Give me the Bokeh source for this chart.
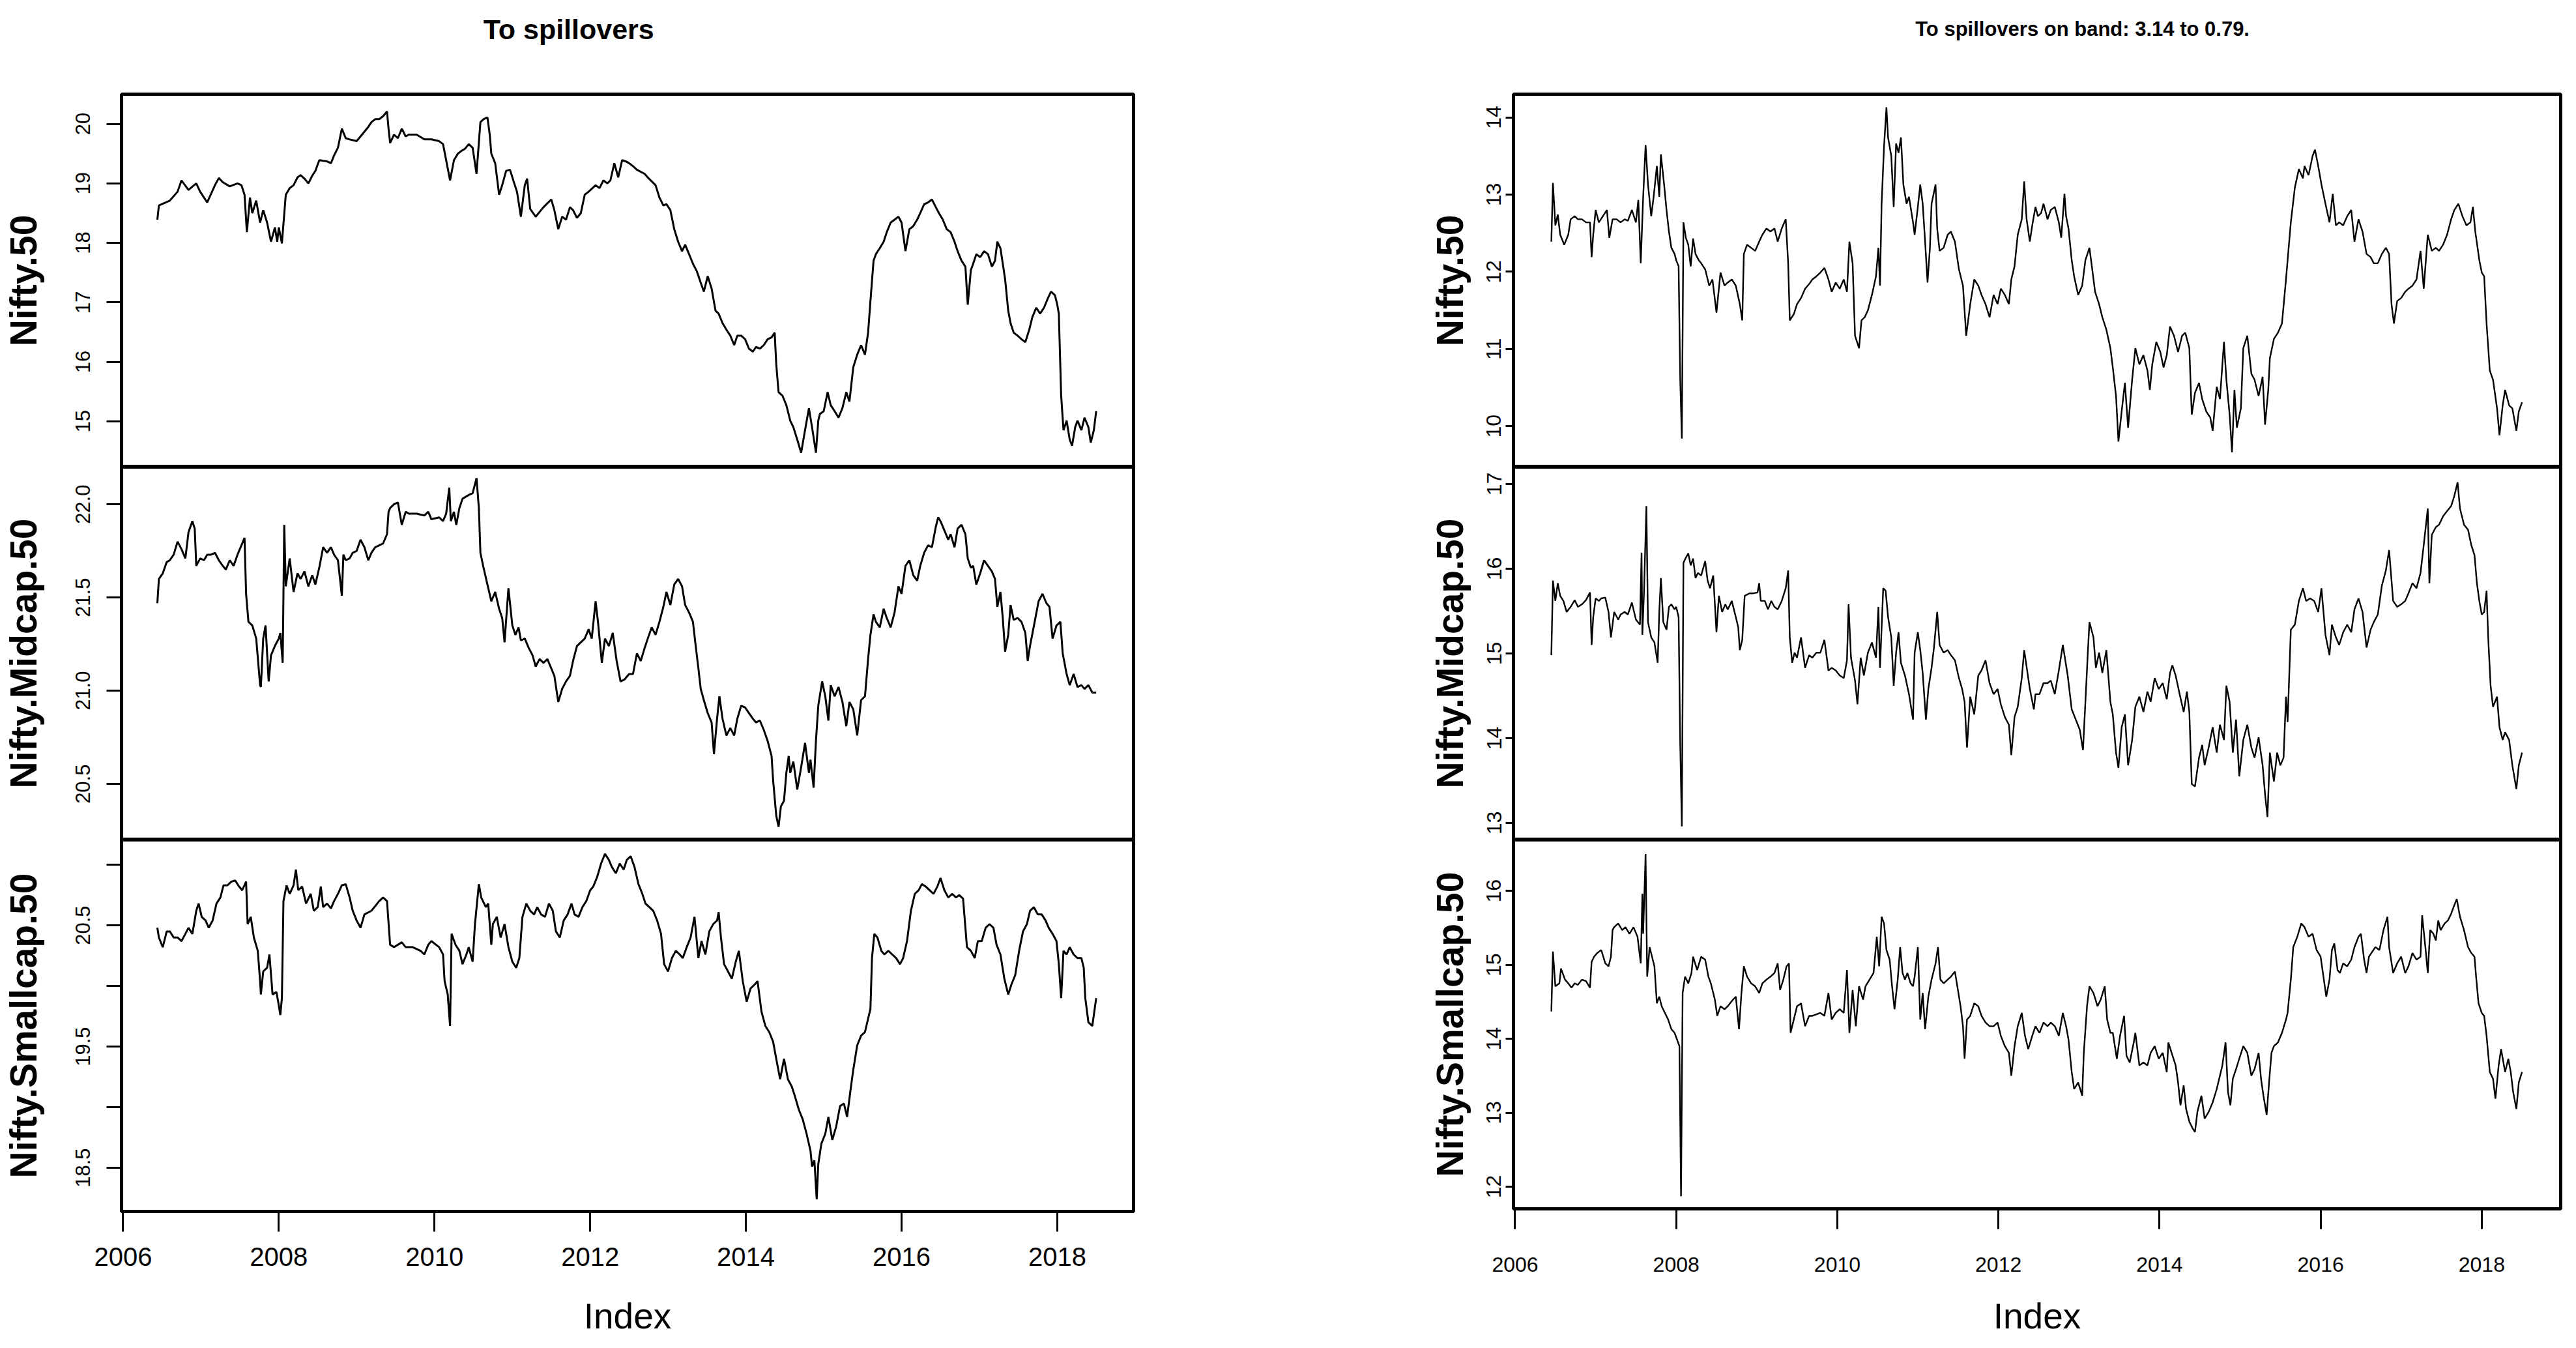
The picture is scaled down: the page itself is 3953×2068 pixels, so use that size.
from bokeh.plotting import figure
from bokeh.layouts import row, column
from bokeh.models import Range1d, FixedTicker, NumeralTickFormatter, Label
from bokeh.embed import file_html
from bokeh.resources import INLINE

# ---------------- data (fractional year, value) ----------------
TITLE_LEFT = "To spillovers"
TITLE_RIGHT = "To spillovers on band: 3.14 to 0.79."
SERIES_NAMES = ["Nifty.50", "Nifty.Midcap.50", "Nifty.Smallcap.50"]
YEAR_TICKS = [2006, 2008, 2010, 2012, 2014, 2016, 2018]

TO_NIFTY50 = [
(2006.44,18.39),(2006.46,18.63),(2006.60,18.71),(2006.70,18.86),(2006.75,19.05),(2006.84,18.89),
(2006.94,19.00),(2006.99,18.86),(2007.08,18.68),(2007.18,18.97),(2007.23,19.09),(2007.28,19.02),
(2007.37,18.95),(2007.47,19.00),(2007.52,18.97),(2007.56,18.81),(2007.59,18.18),(2007.63,18.76),
(2007.66,18.50),(2007.71,18.71),(2007.76,18.34),(2007.80,18.55),(2007.85,18.34),(2007.90,18.02),
(2007.95,18.26),(2007.98,18.02),(2008.00,18.26),(2008.04,17.99),(2008.09,18.81),(2008.14,18.92),
(2008.19,18.97),(2008.24,19.10),(2008.28,19.14),(2008.33,19.08),(2008.38,19.00),(2008.43,19.13),
(2008.47,19.21),(2008.52,19.39),(2008.62,19.37),(2008.67,19.34),(2008.71,19.47),(2008.76,19.60),
(2008.81,19.92),(2008.86,19.76),(2008.91,19.74),(2009.00,19.71),(2009.05,19.79),(2009.10,19.87),
(2009.15,19.95),(2009.19,20.03),(2009.24,20.08),(2009.29,20.08),(2009.34,20.13),(2009.39,20.21),
(2009.41,19.92),(2009.43,19.68),(2009.48,19.82),(2009.53,19.76),(2009.58,19.92),(2009.63,19.79),
(2009.67,19.82),(2009.77,19.82),(2009.87,19.74),(2009.96,19.74),(2010.06,19.71),(2010.11,19.66),
(2010.15,19.39),(2010.20,19.05),(2010.25,19.39),(2010.30,19.50),(2010.35,19.55),(2010.39,19.58),
(2010.44,19.66),(2010.49,19.60),(2010.54,19.16),(2010.59,20.03),(2010.63,20.08),(2010.68,20.11),
(2010.71,19.82),(2010.73,19.50),(2010.78,19.34),(2010.83,18.81),(2010.87,18.97),(2010.92,19.21),
(2010.97,19.23),(2011.02,19.02),(2011.06,18.86),(2011.11,18.44),(2011.16,18.97),(2011.19,19.08),
(2011.23,18.57),(2011.30,18.44),(2011.40,18.60),(2011.50,18.73),(2011.54,18.55),(2011.59,18.23),
(2011.64,18.44),(2011.69,18.39),(2011.74,18.60),(2011.78,18.55),(2011.83,18.42),(2011.88,18.50),
(2011.93,18.81),(2011.98,18.86),(2012.07,18.97),(2012.12,18.92),(2012.17,19.05),(2012.22,19.00),
(2012.26,19.05),(2012.31,19.34),(2012.36,19.10),(2012.41,19.39),(2012.46,19.37),(2012.50,19.34),
(2012.55,19.29),(2012.60,19.23),(2012.70,19.16),(2012.74,19.10),(2012.84,18.97),(2012.89,18.76),
(2012.94,18.63),(2012.98,18.65),(2013.03,18.55),(2013.08,18.23),(2013.13,18.02),(2013.18,17.86),
(2013.22,17.97),(2013.27,17.81),(2013.32,17.65),(2013.37,17.52),(2013.42,17.33),(2013.46,17.18),
(2013.51,17.44),(2013.56,17.23),(2013.61,16.86),(2013.65,16.81),(2013.70,16.65),(2013.75,16.54),
(2013.80,16.44),(2013.85,16.28),(2013.89,16.44),(2013.94,16.44),(2013.99,16.38),(2014.04,16.22),
(2014.09,16.17),(2014.13,16.25),(2014.18,16.22),(2014.23,16.28),(2014.28,16.38),(2014.33,16.41),
(2014.37,16.49),(2014.39,15.96),(2014.42,15.49),(2014.47,15.43),(2014.52,15.27),(2014.57,15.01),
(2014.61,14.90),(2014.66,14.69),(2014.71,14.47),(2014.76,14.85),(2014.81,15.22),(2014.85,14.90),
(2014.90,14.47),(2014.93,15.01),(2014.95,15.12),(2015.00,15.17),(2015.05,15.49),(2015.09,15.27),
(2015.14,15.17),(2015.19,15.06),(2015.24,15.22),(2015.29,15.49),(2015.33,15.33),(2015.38,15.91),
(2015.43,16.12),(2015.48,16.28),(2015.53,16.12),(2015.57,16.49),(2015.60,17.02),(2015.64,17.70),
(2015.67,17.81),(2015.72,17.91),(2015.77,18.02),(2015.81,18.18),(2015.86,18.34),(2015.91,18.39),
(2015.96,18.44),(2016.00,18.34),(2016.05,17.86),(2016.10,18.23),(2016.15,18.28),(2016.20,18.39),
(2016.24,18.50),(2016.29,18.65),(2016.34,18.68),(2016.39,18.73),(2016.44,18.60),(2016.48,18.50),
(2016.53,18.39),(2016.58,18.23),(2016.63,18.18),(2016.68,18.02),(2016.72,17.86),(2016.77,17.70),
(2016.82,17.60),(2016.85,16.96),(2016.89,17.54),(2016.92,17.65),(2016.96,17.81),(2017.01,17.76),
(2017.06,17.86),(2017.11,17.81),(2017.16,17.60),(2017.20,17.70),(2017.23,18.02),(2017.27,17.91),
(2017.30,17.65),(2017.33,17.39),(2017.37,16.86),(2017.40,16.65),(2017.44,16.49),(2017.49,16.44),
(2017.54,16.38),(2017.59,16.33),(2017.64,16.54),(2017.68,16.75),(2017.73,16.91),(2017.78,16.81),
(2017.83,16.91),(2017.88,17.07),(2017.92,17.18),(2017.97,17.12),(2018.00,16.96),(2018.02,16.81),
(2018.05,15.43),(2018.08,14.85),(2018.12,15.01),(2018.16,14.69),(2018.19,14.59),(2018.23,14.90),
(2018.26,15.01),(2018.31,14.85),(2018.35,15.06),(2018.40,14.90),(2018.43,14.64),(2018.47,14.85),
(2018.50,15.17)]

TO_MIDCAP50 = [
(2006.44,21.47),(2006.46,21.60),(2006.51,21.63),(2006.56,21.69),(2006.60,21.70),(2006.65,21.73),
(2006.70,21.80),(2006.75,21.76),(2006.80,21.71),(2006.84,21.85),(2006.89,21.91),(2006.92,21.87),
(2006.94,21.67),(2006.99,21.71),(2007.04,21.70),(2007.08,21.73),(2007.13,21.73),(2007.18,21.74),
(2007.23,21.70),(2007.28,21.67),(2007.32,21.65),(2007.37,21.70),(2007.42,21.67),(2007.47,21.73),
(2007.52,21.78),(2007.56,21.82),(2007.58,21.52),(2007.61,21.37),(2007.66,21.35),(2007.71,21.28),
(2007.76,21.03),(2007.77,21.02),(2007.80,21.28),(2007.83,21.35),(2007.87,21.05),(2007.90,21.19),
(2007.95,21.24),(2008.00,21.28),(2008.02,21.31),(2008.05,21.15),(2008.07,21.89),(2008.09,21.56),
(2008.14,21.71),(2008.19,21.53),(2008.24,21.63),(2008.28,21.60),(2008.33,21.64),(2008.38,21.56),
(2008.43,21.62),(2008.47,21.57),(2008.52,21.66),(2008.57,21.77),(2008.62,21.74),(2008.67,21.77),
(2008.71,21.73),(2008.76,21.70),(2008.81,21.51),(2008.83,21.73),(2008.86,21.70),(2008.91,21.71),
(2008.95,21.74),(2009.00,21.75),(2009.05,21.81),(2009.10,21.77),(2009.15,21.70),(2009.19,21.74),
(2009.24,21.77),(2009.29,21.78),(2009.34,21.79),(2009.39,21.84),(2009.41,21.96),(2009.43,21.98),
(2009.48,22.00),(2009.53,22.01),(2009.58,21.89),(2009.63,21.96),(2009.67,21.95),(2009.77,21.95),
(2009.87,21.94),(2009.92,21.96),(2009.96,21.92),(2010.06,21.93),(2010.11,21.91),(2010.15,21.95),
(2010.19,22.09),(2010.21,21.91),(2010.25,21.96),(2010.28,21.89),(2010.32,21.98),(2010.36,22.03),
(2010.44,22.05),(2010.49,22.06),(2010.54,22.14),(2010.57,21.98),(2010.59,21.74),(2010.63,21.66),
(2010.68,21.57),(2010.73,21.48),(2010.78,21.53),(2010.83,21.44),(2010.87,21.39),(2010.90,21.26),
(2010.95,21.55),(2011.00,21.35),(2011.04,21.30),(2011.08,21.34),(2011.11,21.27),(2011.16,21.28),
(2011.21,21.23),(2011.26,21.19),(2011.30,21.13),(2011.35,21.17),(2011.40,21.15),(2011.45,21.17),
(2011.50,21.12),(2011.54,21.08),(2011.59,20.94),(2011.64,21.01),(2011.69,21.05),(2011.74,21.08),
(2011.78,21.16),(2011.83,21.24),(2011.88,21.26),(2011.93,21.28),(2011.98,21.33),(2012.02,21.28),
(2012.07,21.48),(2012.10,21.37),(2012.15,21.15),(2012.19,21.28),(2012.24,21.24),(2012.29,21.31),
(2012.34,21.16),(2012.39,21.05),(2012.44,21.06),(2012.50,21.09),(2012.55,21.09),(2012.60,21.20),
(2012.65,21.16),(2012.70,21.23),(2012.74,21.28),(2012.79,21.34),(2012.84,21.30),(2012.89,21.37),
(2012.94,21.45),(2012.98,21.53),(2013.03,21.46),(2013.08,21.57),(2013.13,21.60),(2013.18,21.56),
(2013.22,21.46),(2013.27,21.42),(2013.32,21.37),(2013.35,21.26),(2013.39,21.12),(2013.42,21.01),
(2013.46,20.95),(2013.51,20.88),(2013.56,20.83),(2013.59,20.66),(2013.63,20.85),(2013.66,20.97),
(2013.70,20.85),(2013.75,20.76),(2013.80,20.80),(2013.85,20.76),(2013.89,20.85),(2013.94,20.92),
(2013.99,20.91),(2014.04,20.88),(2014.09,20.85),(2014.13,20.83),(2014.18,20.84),(2014.23,20.79),
(2014.28,20.73),(2014.33,20.65),(2014.35,20.52),(2014.39,20.33),(2014.42,20.27),(2014.45,20.38),
(2014.49,20.41),(2014.52,20.56),(2014.55,20.65),(2014.57,20.56),(2014.61,20.62),(2014.66,20.47),
(2014.71,20.59),(2014.76,20.72),(2014.81,20.56),(2014.83,20.63),(2014.87,20.48),(2014.90,20.73),
(2014.93,20.92),(2014.98,21.05),(2015.02,20.97),(2015.06,20.84),(2015.09,21.03),(2015.14,20.97),
(2015.19,21.02),(2015.24,20.94),(2015.29,20.81),(2015.33,20.94),(2015.38,20.90),(2015.43,20.76),
(2015.48,20.95),(2015.53,20.97),(2015.57,21.17),(2015.60,21.30),(2015.64,21.41),(2015.67,21.37),
(2015.72,21.34),(2015.77,21.44),(2015.81,21.39),(2015.86,21.34),(2015.91,21.42),(2015.96,21.56),
(2016.00,21.52),(2016.05,21.67),(2016.10,21.70),(2016.15,21.62),(2016.20,21.59),(2016.24,21.67),
(2016.29,21.74),(2016.34,21.78),(2016.39,21.77),(2016.44,21.88),(2016.47,21.93),(2016.50,21.91),
(2016.56,21.85),(2016.60,21.81),(2016.63,21.84),(2016.68,21.77),(2016.72,21.87),(2016.77,21.89),
(2016.82,21.84),(2016.85,21.71),(2016.89,21.66),(2016.92,21.67),(2016.96,21.57),(2017.01,21.63),
(2017.06,21.70),(2017.11,21.67),(2017.16,21.64),(2017.20,21.60),(2017.23,21.45),(2017.27,21.53),
(2017.30,21.39),(2017.33,21.21),(2017.37,21.30),(2017.40,21.46),(2017.44,21.38),(2017.49,21.39),
(2017.54,21.37),(2017.59,21.31),(2017.62,21.16),(2017.65,21.24),(2017.71,21.37),(2017.76,21.48),
(2017.81,21.52),(2017.86,21.47),(2017.90,21.45),(2017.94,21.28),(2017.99,21.35),(2018.04,21.37),
(2018.07,21.20),(2018.12,21.09),(2018.16,21.03),(2018.21,21.09),(2018.26,21.02),(2018.31,21.03),
(2018.35,21.01),(2018.40,21.03),(2018.45,20.99),(2018.50,20.99)]

TO_SMALLCAP50 = [
(2006.44,20.48),(2006.46,20.40),(2006.51,20.32),(2006.56,20.45),(2006.60,20.45),(2006.65,20.40),
(2006.70,20.40),(2006.75,20.37),(2006.80,20.43),(2006.84,20.48),(2006.89,20.43),(2006.94,20.62),
(2006.97,20.68),(2007.01,20.57),(2007.06,20.54),(2007.10,20.48),(2007.15,20.54),(2007.20,20.68),
(2007.25,20.73),(2007.29,20.83),(2007.34,20.83),(2007.39,20.86),(2007.44,20.87),(2007.49,20.82),
(2007.53,20.79),(2007.58,20.86),(2007.60,20.51),(2007.64,20.57),(2007.68,20.40),(2007.73,20.29),
(2007.76,20.04),(2007.77,19.93),(2007.80,20.12),(2007.85,20.15),(2007.88,20.26),(2007.92,19.93),
(2007.97,19.95),(2008.00,19.84),(2008.02,19.76),(2008.04,19.90),(2008.06,20.70),(2008.10,20.83),
(2008.14,20.76),(2008.19,20.83),(2008.22,20.96),(2008.25,20.79),(2008.30,20.82),(2008.35,20.68),
(2008.41,20.76),(2008.45,20.62),(2008.50,20.65),(2008.54,20.82),(2008.57,20.65),(2008.62,20.68),
(2008.67,20.64),(2008.71,20.70),(2008.76,20.76),(2008.81,20.83),(2008.86,20.84),(2008.91,20.73),
(2008.95,20.62),(2009.00,20.54),(2009.05,20.48),(2009.10,20.59),(2009.19,20.62),(2009.24,20.66),
(2009.29,20.70),(2009.34,20.73),(2009.39,20.70),(2009.43,20.34),(2009.48,20.32),(2009.53,20.34),
(2009.58,20.36),(2009.63,20.32),(2009.72,20.32),(2009.82,20.29),(2009.87,20.26),(2009.92,20.34),
(2009.96,20.37),(2010.06,20.32),(2010.11,20.26),(2010.13,20.04),(2010.17,19.93),(2010.20,19.67),
(2010.22,20.43),(2010.27,20.34),(2010.32,20.29),(2010.36,20.18),(2010.41,20.26),(2010.44,20.32),
(2010.49,20.20),(2010.52,20.51),(2010.57,20.84),(2010.60,20.73),(2010.66,20.65),(2010.69,20.68),
(2010.73,20.34),(2010.75,20.51),(2010.80,20.57),(2010.85,20.40),(2010.90,20.51),(2010.95,20.32),
(2011.00,20.20),(2011.05,20.15),(2011.09,20.23),(2011.13,20.57),(2011.18,20.68),(2011.23,20.62),
(2011.28,20.59),(2011.32,20.65),(2011.37,20.59),(2011.42,20.57),(2011.47,20.68),(2011.52,20.62),
(2011.56,20.45),(2011.61,20.40),(2011.66,20.54),(2011.71,20.59),(2011.76,20.68),(2011.80,20.59),
(2011.85,20.57),(2011.90,20.65),(2011.95,20.70),(2012.00,20.79),(2012.04,20.82),(2012.09,20.90),
(2012.14,21.01),(2012.19,21.09),(2012.24,21.04),(2012.28,20.98),(2012.33,20.93),(2012.38,21.01),
(2012.43,20.96),(2012.47,21.04),(2012.52,21.07),(2012.57,20.98),(2012.62,20.84),(2012.67,20.76),
(2012.71,20.68),(2012.76,20.65),(2012.81,20.62),(2012.86,20.54),(2012.91,20.43),(2012.95,20.18),
(2013.00,20.12),(2013.05,20.23),(2013.10,20.29),(2013.15,20.26),(2013.19,20.23),(2013.24,20.32),
(2013.29,20.40),(2013.34,20.57),(2013.39,20.23),(2013.43,20.37),(2013.48,20.26),(2013.53,20.45),
(2013.58,20.51),(2013.63,20.54),(2013.65,20.61),(2013.68,20.40),(2013.72,20.18),(2013.77,20.12),
(2013.82,20.06),(2013.87,20.20),(2013.91,20.29),(2013.96,20.04),(2014.01,19.87),(2014.06,19.98),
(2014.11,20.01),(2014.15,20.04),(2014.20,19.79),(2014.25,19.67),(2014.30,19.62),(2014.35,19.54),
(2014.39,19.40),(2014.44,19.23),(2014.49,19.40),(2014.54,19.23),(2014.59,19.17),(2014.63,19.09),
(2014.68,18.98),(2014.73,18.90),(2014.78,18.78),(2014.83,18.64),(2014.85,18.51),(2014.88,18.56),
(2014.91,18.24),(2014.93,18.53),(2014.97,18.70),(2015.02,18.78),(2015.06,18.92),(2015.11,18.73),
(2015.16,18.84),(2015.21,19.01),(2015.26,19.03),(2015.30,18.92),(2015.35,19.17),(2015.38,19.31),
(2015.43,19.51),(2015.48,19.59),(2015.53,19.62),(2015.57,19.73),(2015.60,19.81),(2015.62,20.23),
(2015.65,20.43),(2015.69,20.40),(2015.74,20.29),(2015.78,20.26),(2015.83,20.29),(2015.88,20.26),
(2015.93,20.23),(2015.98,20.18),(2016.02,20.23),(2016.07,20.37),(2016.12,20.62),(2016.17,20.76),
(2016.22,20.79),(2016.26,20.84),(2016.31,20.82),(2016.36,20.79),(2016.41,20.76),(2016.46,20.82),
(2016.50,20.89),(2016.55,20.79),(2016.60,20.73),(2016.65,20.76),(2016.70,20.73),(2016.74,20.75),
(2016.79,20.72),(2016.84,20.32),(2016.89,20.29),(2016.94,20.23),(2016.98,20.37),(2017.03,20.37),
(2017.08,20.48),(2017.13,20.51),(2017.18,20.48),(2017.22,20.34),(2017.27,20.26),(2017.32,20.06),
(2017.37,19.93),(2017.41,20.01),(2017.46,20.09),(2017.51,20.29),(2017.56,20.45),(2017.61,20.51),
(2017.65,20.62),(2017.70,20.65),(2017.75,20.59),(2017.80,20.59),(2017.85,20.54),(2017.89,20.48),
(2017.94,20.43),(2017.99,20.37),(2018.02,20.18),(2018.05,19.90),(2018.08,20.29),(2018.12,20.26),
(2018.16,20.32),(2018.21,20.26),(2018.26,20.23),(2018.31,20.23),(2018.34,20.15),(2018.36,19.90),
(2018.40,19.70),(2018.45,19.67),(2018.50,19.90)]

BAND_NIFTY50 = [
(2006.45,12.39),(2006.47,13.15),(2006.50,12.60),(2006.53,12.74),(2006.56,12.48),(2006.61,12.35),
(2006.66,12.48),(2006.69,12.68),(2006.74,12.72),(2006.78,12.68),(2006.83,12.68),(2006.88,12.64),
(2006.93,12.64),(2006.95,12.19),(2006.97,12.48),(2007.00,12.80),(2007.04,12.64),(2007.09,12.72),
(2007.14,12.80),(2007.17,12.44),(2007.21,12.68),(2007.26,12.68),(2007.31,12.64),(2007.36,12.68),
(2007.40,12.66),(2007.45,12.80),(2007.50,12.64),(2007.53,12.93),(2007.56,12.11),(2007.59,12.97),
(2007.62,13.64),(2007.65,13.13),(2007.69,12.72),(2007.72,12.97),(2007.76,13.37),(2007.79,12.97),
(2007.81,13.52),(2007.85,13.13),(2007.88,12.80),(2007.91,12.52),(2007.94,12.31),(2007.98,12.23),
(2008.00,12.15),(2008.03,12.07),(2008.05,10.60),(2008.07,9.84),(2008.09,12.64),(2008.12,12.44),
(2008.15,12.35),(2008.18,12.07),(2008.21,12.43),(2008.24,12.23),(2008.28,12.15),(2008.31,12.11),
(2008.36,12.03),(2008.41,11.82),(2008.45,11.90),(2008.50,11.47),(2008.55,11.99),(2008.60,11.82),
(2008.64,11.86),(2008.69,11.90),(2008.74,11.82),(2008.79,11.58),(2008.82,11.37),(2008.84,12.23),
(2008.88,12.35),(2008.93,12.31),(2008.98,12.27),(2009.03,12.39),(2009.07,12.48),(2009.12,12.56),
(2009.17,12.52),(2009.22,12.56),(2009.26,12.39),(2009.31,12.56),(2009.36,12.68),(2009.39,12.11),
(2009.41,11.37),(2009.46,11.45),(2009.50,11.58),(2009.55,11.66),(2009.60,11.78),(2009.65,11.84),
(2009.69,11.90),(2009.74,11.94),(2009.79,11.99),(2009.84,12.05),(2009.89,11.90),(2009.93,11.74),
(2009.98,11.86),(2010.03,11.78),(2010.08,11.90),(2010.12,11.74),(2010.15,12.39),(2010.19,12.11),
(2010.22,11.17),(2010.27,11.01),(2010.30,11.37),(2010.34,11.41),(2010.38,11.50),(2010.43,11.70),
(2010.48,11.94),(2010.51,12.31),(2010.53,11.82),(2010.55,12.88),(2010.58,13.62),(2010.61,14.13),
(2010.63,13.74),(2010.67,13.50),(2010.70,12.84),(2010.73,13.66),(2010.76,13.54),(2010.79,13.74),
(2010.82,13.13),(2010.86,12.88),(2010.89,12.97),(2010.94,12.64),(2010.96,12.48),(2011.00,12.84),
(2011.03,13.13),(2011.06,12.88),(2011.09,12.39),(2011.12,11.86),(2011.15,12.31),(2011.17,12.88),
(2011.22,13.13),(2011.24,12.56),(2011.27,12.27),(2011.32,12.31),(2011.37,12.48),(2011.41,12.52),
(2011.46,12.39),(2011.51,12.03),(2011.56,11.82),(2011.60,11.17),(2011.65,11.58),(2011.70,11.90),
(2011.75,11.82),(2011.79,11.70),(2011.84,11.58),(2011.89,11.41),(2011.94,11.70),(2011.99,11.58),
(2012.03,11.78),(2012.08,11.70),(2012.13,11.58),(2012.16,11.90),(2012.20,12.07),(2012.24,12.48),
(2012.29,12.68),(2012.32,13.17),(2012.35,12.68),(2012.39,12.39),(2012.42,12.60),(2012.46,12.84),
(2012.49,12.72),(2012.53,12.76),(2012.56,12.88),(2012.61,12.68),(2012.65,12.80),(2012.70,12.84),
(2012.75,12.64),(2012.78,12.44),(2012.82,13.01),(2012.84,12.72),(2012.87,12.56),(2012.91,12.15),
(2012.94,11.94),(2012.99,11.70),(2013.04,11.82),(2013.08,12.15),(2013.13,12.31),(2013.16,12.07),
(2013.20,11.74),(2013.25,11.58),(2013.29,11.41),(2013.34,11.25),(2013.39,11.01),(2013.42,10.76),
(2013.46,10.39),(2013.49,9.80),(2013.53,10.19),(2013.57,10.56),(2013.61,9.98),(2013.66,10.60),
(2013.70,11.01),(2013.75,10.80),(2013.80,10.92),(2013.85,10.72),(2013.88,10.47),(2013.91,10.80),
(2013.96,11.09),(2014.01,10.96),(2014.05,10.76),(2014.09,10.92),(2014.13,11.29),(2014.18,11.17),
(2014.23,10.96),(2014.28,11.17),(2014.32,11.21),(2014.37,11.01),(2014.40,10.15),(2014.44,10.43),
(2014.49,10.56),(2014.53,10.35),(2014.58,10.19),(2014.63,10.11),(2014.66,9.94),(2014.71,10.51),
(2014.75,10.35),(2014.80,11.09),(2014.83,10.60),(2014.87,10.15),(2014.90,9.66),(2014.93,10.47),
(2014.96,9.98),(2015.01,10.23),(2015.04,11.01),(2015.09,11.17),(2015.14,10.68),(2015.18,10.60),
(2015.23,10.39),(2015.28,10.64),(2015.31,10.02),(2015.35,10.47),(2015.37,10.88),(2015.42,11.13),
(2015.47,11.21),(2015.52,11.33),(2015.57,11.90),(2015.59,12.15),(2015.63,12.64),(2015.68,13.09),
(2015.73,13.33),(2015.78,13.21),(2015.80,13.37),(2015.85,13.25),(2015.90,13.50),(2015.93,13.58),
(2015.97,13.37),(2016.01,13.13),(2016.06,12.88),(2016.11,12.64),(2016.15,13.01),(2016.19,12.60),
(2016.23,12.64),(2016.28,12.60),(2016.33,12.72),(2016.38,12.80),(2016.42,12.39),(2016.47,12.68),
(2016.52,12.52),(2016.57,12.23),(2016.62,12.19),(2016.66,12.11),(2016.71,12.11),(2016.76,12.23),
(2016.81,12.31),(2016.85,12.23),(2016.88,11.58),(2016.91,11.33),(2016.95,11.62),(2017.00,11.66),
(2017.05,11.74),(2017.09,11.78),(2017.14,11.82),(2017.19,11.90),(2017.24,12.27),(2017.28,11.78),
(2017.33,12.48),(2017.38,12.27),(2017.43,12.31),(2017.47,12.27),(2017.52,12.35),(2017.57,12.48),
(2017.62,12.68),(2017.66,12.80),(2017.71,12.88),(2017.76,12.72),(2017.81,12.60),(2017.86,12.64),
(2017.89,12.84),(2017.92,12.52),(2017.97,12.15),(2018.00,11.99),(2018.03,11.94),(2018.06,11.33),
(2018.10,10.72),(2018.14,10.60),(2018.19,10.23),(2018.22,9.88),(2018.26,10.27),(2018.29,10.47),
(2018.34,10.27),(2018.38,10.23),(2018.43,9.94),(2018.46,10.19),(2018.50,10.31)]

BAND_MIDCAP50 = [
(2006.45,14.98),(2006.47,15.86),(2006.50,15.62),(2006.53,15.83),(2006.56,15.68),(2006.60,15.62),
(2006.64,15.49),(2006.69,15.55),(2006.74,15.63),(2006.78,15.55),(2006.83,15.58),(2006.88,15.63),
(2006.93,15.72),(2006.95,15.10),(2006.97,15.43),(2007.00,15.65),(2007.04,15.62),(2007.07,15.65),
(2007.12,15.66),(2007.16,15.49),(2007.19,15.19),(2007.23,15.49),(2007.28,15.40),(2007.31,15.46),
(2007.36,15.49),(2007.40,15.46),(2007.45,15.60),(2007.50,15.40),(2007.55,15.34),(2007.57,16.19),
(2007.58,15.22),(2007.60,15.71),(2007.63,16.74),(2007.65,15.37),(2007.69,15.19),(2007.73,15.13),
(2007.77,14.89),(2007.79,15.49),(2007.81,15.89),(2007.84,15.37),(2007.88,15.28),(2007.91,15.55),
(2007.94,15.58),(2007.98,15.52),(2008.00,15.55),(2008.03,15.43),(2008.05,13.92),(2008.07,12.96),
(2008.09,16.07),(2008.12,16.13),(2008.15,16.18),(2008.18,16.04),(2008.21,16.12),(2008.24,15.89),
(2008.27,15.95),(2008.31,15.92),(2008.36,16.09),(2008.39,15.86),(2008.42,15.77),(2008.46,15.92),
(2008.50,15.25),(2008.53,15.68),(2008.57,15.49),(2008.61,15.58),(2008.64,15.52),(2008.69,15.62),
(2008.74,15.43),(2008.77,15.31),(2008.79,15.04),(2008.82,15.16),(2008.85,15.68),(2008.91,15.71),
(2008.96,15.71),(2009.01,15.72),(2009.03,15.83),(2009.05,15.62),(2009.10,15.62),(2009.14,15.52),
(2009.18,15.62),(2009.22,15.55),(2009.26,15.52),(2009.31,15.62),(2009.36,15.77),(2009.39,15.98),
(2009.41,15.19),(2009.44,14.89),(2009.47,15.01),(2009.50,14.95),(2009.55,15.19),(2009.60,14.83),
(2009.65,14.98),(2009.69,14.95),(2009.74,15.01),(2009.79,15.01),(2009.84,15.16),(2009.89,14.80),
(2009.93,14.83),(2009.98,14.80),(2010.03,14.74),(2010.08,14.71),(2010.12,14.92),(2010.14,15.58),
(2010.17,14.95),(2010.22,14.68),(2010.25,14.40),(2010.29,14.95),(2010.33,14.74),(2010.38,15.01),
(2010.43,15.13),(2010.48,14.95),(2010.51,15.55),(2010.53,14.83),(2010.57,15.77),(2010.60,15.74),
(2010.63,15.43),(2010.67,15.19),(2010.70,14.62),(2010.73,15.01),(2010.76,15.25),(2010.79,14.89),
(2010.84,14.74),(2010.89,14.52),(2010.94,14.22),(2010.96,15.01),(2011.00,15.25),(2011.03,15.04),
(2011.06,14.77),(2011.10,14.22),(2011.13,14.58),(2011.17,14.83),(2011.20,15.07),(2011.24,15.49),
(2011.27,15.10),(2011.32,15.01),(2011.37,15.04),(2011.41,14.98),(2011.46,14.92),(2011.51,14.71),
(2011.55,14.58),(2011.58,14.43),(2011.61,13.89),(2011.65,14.49),(2011.70,14.28),(2011.75,14.74),
(2011.79,14.80),(2011.84,14.92),(2011.89,14.65),(2011.94,14.52),(2011.99,14.58),(2012.03,14.40),
(2012.08,14.25),(2012.13,14.16),(2012.16,13.80),(2012.20,14.25),(2012.24,14.37),(2012.29,14.71),
(2012.32,15.04),(2012.39,14.58),(2012.44,14.34),(2012.46,14.52),(2012.51,14.52),(2012.56,14.65),
(2012.61,14.65),(2012.65,14.68),(2012.70,14.52),(2012.75,14.80),(2012.80,15.10),(2012.83,14.92),
(2012.86,14.74),(2012.91,14.34),(2012.96,14.22),(2013.01,14.10),(2013.05,13.86),(2013.08,14.43),
(2013.11,15.01),(2013.13,15.37),(2013.18,15.19),(2013.21,14.83),(2013.25,15.01),(2013.29,14.77),
(2013.34,15.04),(2013.39,14.43),(2013.42,14.28),(2013.46,13.83),(2013.49,13.65),(2013.53,14.13),
(2013.57,14.28),(2013.61,13.68),(2013.66,13.98),(2013.70,14.37),(2013.75,14.49),(2013.80,14.31),
(2013.85,14.55),(2013.89,14.43),(2013.94,14.71),(2013.99,14.58),(2014.04,14.65),(2014.09,14.46),
(2014.13,14.77),(2014.16,14.86),(2014.20,14.74),(2014.25,14.52),(2014.30,14.31),(2014.34,14.55),
(2014.37,14.31),(2014.40,13.46),(2014.44,13.43),(2014.49,13.77),(2014.53,13.92),(2014.56,13.68),
(2014.61,13.89),(2014.66,14.13),(2014.71,13.83),(2014.75,14.16),(2014.80,13.98),(2014.83,14.62),
(2014.87,14.43),(2014.91,13.83),(2014.95,14.22),(2014.99,13.55),(2015.04,13.98),(2015.09,14.16),
(2015.14,13.89),(2015.18,13.77),(2015.23,14.01),(2015.28,13.68),(2015.31,13.34),(2015.34,13.07),
(2015.37,13.83),(2015.42,13.49),(2015.46,13.83),(2015.50,13.68),(2015.54,13.77),(2015.57,14.49),
(2015.59,14.19),(2015.63,15.28),(2015.68,15.34),(2015.73,15.62),(2015.78,15.77),(2015.82,15.62),
(2015.87,15.65),(2015.92,15.62),(2015.97,15.49),(2016.01,15.77),(2016.06,15.22),(2016.11,14.98),
(2016.14,15.34),(2016.19,15.19),(2016.23,15.10),(2016.28,15.25),(2016.33,15.34),(2016.38,15.25),
(2016.42,15.52),(2016.47,15.65),(2016.52,15.49),(2016.57,15.07),(2016.62,15.28),(2016.66,15.37),
(2016.71,15.46),(2016.76,15.80),(2016.81,15.98),(2016.85,16.22),(2016.90,15.62),(2016.95,15.55),
(2017.00,15.58),(2017.05,15.62),(2017.09,15.71),(2017.14,15.83),(2017.19,15.77),(2017.24,15.95),
(2017.28,16.28),(2017.33,16.71),(2017.35,15.83),(2017.38,16.40),(2017.43,16.49),(2017.47,16.52),
(2017.52,16.62),(2017.57,16.68),(2017.62,16.74),(2017.66,16.86),(2017.70,17.02),(2017.73,16.71),
(2017.78,16.52),(2017.83,16.46),(2017.87,16.28),(2017.91,16.16),(2017.94,15.83),(2017.97,15.62),
(2018.00,15.46),(2018.03,15.49),(2018.06,15.74),(2018.08,15.19),(2018.11,14.62),(2018.14,14.37),
(2018.19,14.49),(2018.22,14.13),(2018.26,13.98),(2018.29,14.07),(2018.34,13.98),(2018.38,13.68),
(2018.43,13.40),(2018.46,13.68),(2018.50,13.83)]

BAND_SMALLCAP50 = [
(2006.45,14.37),(2006.47,15.18),(2006.50,14.71),(2006.55,14.75),(2006.57,14.95),(2006.62,14.80),
(2006.66,14.75),(2006.70,14.69),(2006.74,14.75),(2006.78,14.73),(2006.83,14.80),(2006.88,14.78),
(2006.93,14.69),(2006.95,15.04),(2006.98,15.11),(2007.02,15.16),(2007.07,15.20),(2007.12,15.02),
(2007.16,14.98),(2007.19,15.11),(2007.21,15.47),(2007.23,15.51),(2007.28,15.56),(2007.33,15.47),
(2007.37,15.51),(2007.42,15.42),(2007.47,15.51),(2007.52,15.38),(2007.56,15.02),(2007.58,15.96),
(2007.59,15.42),(2007.62,16.50),(2007.64,14.84),(2007.67,15.24),(2007.70,15.11),(2007.73,14.98),
(2007.76,14.48),(2007.79,14.57),(2007.82,14.44),(2007.86,14.35),(2007.90,14.26),(2007.94,14.13),
(2007.98,14.08),(2008.01,13.99),(2008.04,13.90),(2008.06,11.87),(2008.08,14.62),(2008.11,14.84),
(2008.15,14.75),(2008.19,14.89),(2008.21,15.11),(2008.26,14.93),(2008.31,15.11),(2008.36,15.07),
(2008.40,14.84),(2008.43,14.75),(2008.48,14.53),(2008.51,14.31),(2008.55,14.44),(2008.60,14.40),
(2008.64,14.44),(2008.69,14.51),(2008.74,14.57),(2008.78,14.13),(2008.81,14.62),(2008.84,14.98),
(2008.88,14.84),(2008.93,14.75),(2008.98,14.71),(2009.03,14.62),(2009.07,14.75),(2009.12,14.80),
(2009.17,14.84),(2009.22,14.89),(2009.26,15.02),(2009.29,14.66),(2009.33,14.80),(2009.37,14.98),
(2009.40,15.02),(2009.42,14.08),(2009.46,14.26),(2009.50,14.44),(2009.55,14.48),(2009.60,14.17),
(2009.65,14.31),(2009.69,14.31),(2009.79,14.35),(2009.84,14.31),(2009.89,14.62),(2009.93,14.26),
(2009.98,14.35),(2010.03,14.40),(2010.08,14.35),(2010.12,14.93),(2010.15,14.08),(2010.19,14.66),
(2010.23,14.17),(2010.27,14.71),(2010.32,14.53),(2010.35,14.71),(2010.40,14.80),(2010.45,14.89),
(2010.49,15.38),(2010.52,14.98),(2010.55,15.65),(2010.58,15.56),(2010.61,15.20),(2010.65,15.07),
(2010.68,14.71),(2010.71,14.40),(2010.75,14.80),(2010.78,15.24),(2010.81,14.89),(2010.84,14.80),
(2010.87,14.89),(2010.91,14.75),(2010.94,14.71),(2010.96,14.84),(2011.00,15.24),(2011.03,14.26),
(2011.06,14.62),(2011.09,14.13),(2011.13,14.57),(2011.17,14.80),(2011.22,15.02),(2011.25,15.24),
(2011.28,14.80),(2011.32,14.75),(2011.37,14.80),(2011.41,14.84),(2011.46,14.91),(2011.49,14.71),
(2011.53,14.44),(2011.56,14.17),(2011.58,13.73),(2011.61,14.26),(2011.65,14.31),(2011.70,14.48),
(2011.75,14.44),(2011.79,14.31),(2011.84,14.22),(2011.89,14.17),(2011.94,14.17),(2011.99,14.22),
(2012.03,14.04),(2012.08,13.90),(2012.13,13.81),(2012.16,13.50),(2012.20,13.90),(2012.24,14.17),
(2012.29,14.35),(2012.33,14.04),(2012.37,13.86),(2012.42,14.04),(2012.46,14.17),(2012.51,14.08),
(2012.56,14.22),(2012.61,14.17),(2012.65,14.22),(2012.70,14.17),(2012.75,14.04),(2012.80,14.35),
(2012.84,14.17),(2012.87,13.99),(2012.91,13.55),(2012.94,13.32),(2012.99,13.41),(2013.04,13.23),
(2013.06,13.81),(2013.10,14.44),(2013.13,14.71),(2013.18,14.62),(2013.23,14.44),(2013.27,14.53),
(2013.32,14.71),(2013.35,14.26),(2013.39,14.08),(2013.42,14.08),(2013.47,13.73),(2013.51,14.04),
(2013.56,14.31),(2013.59,13.77),(2013.63,13.68),(2013.68,13.95),(2013.70,14.08),(2013.75,13.64),
(2013.80,13.68),(2013.85,13.64),(2013.89,13.81),(2013.94,13.90),(2013.99,13.73),(2014.04,13.81),
(2014.09,13.55),(2014.11,13.95),(2014.15,13.81),(2014.20,13.64),(2014.23,13.41),(2014.26,13.10),
(2014.30,13.37),(2014.33,13.05),(2014.37,12.88),(2014.41,12.79),(2014.44,12.74),(2014.47,13.01),
(2014.52,13.23),(2014.56,12.92),(2014.61,13.01),(2014.66,13.14),(2014.71,13.32),(2014.75,13.50),
(2014.78,13.64),(2014.82,13.95),(2014.85,13.28),(2014.88,13.10),(2014.91,13.46),(2014.95,13.59),
(2014.99,13.73),(2015.04,13.90),(2015.09,13.81),(2015.14,13.50),(2015.18,13.59),(2015.23,13.81),
(2015.26,13.46),(2015.29,13.23),(2015.33,12.97),(2015.36,13.41),(2015.39,13.81),(2015.42,13.90),
(2015.47,13.95),(2015.52,14.08),(2015.57,14.26),(2015.59,14.35),(2015.63,14.80),(2015.66,15.24),
(2015.71,15.38),(2015.76,15.56),(2015.80,15.51),(2015.85,15.38),(2015.90,15.42),(2015.95,15.20),
(2016.00,15.11),(2016.04,14.80),(2016.07,14.57),(2016.11,14.80),(2016.14,15.20),(2016.17,15.29),
(2016.21,14.93),(2016.24,14.89),(2016.28,15.02),(2016.33,14.98),(2016.38,15.07),(2016.42,15.24),
(2016.47,15.38),(2016.50,15.42),(2016.54,15.07),(2016.57,14.89),(2016.60,15.11),(2016.63,15.16),
(2016.68,15.24),(2016.73,15.20),(2016.78,15.47),(2016.83,15.65),(2016.85,15.24),(2016.90,14.89),
(2016.95,15.02),(2017.00,15.11),(2017.05,14.89),(2017.09,14.98),(2017.14,15.16),(2017.19,15.07),
(2017.24,15.11),(2017.26,15.67),(2017.30,15.24),(2017.33,14.89),(2017.36,15.47),(2017.40,15.42),
(2017.43,15.33),(2017.46,15.60),(2017.49,15.47),(2017.54,15.56),(2017.58,15.60),(2017.62,15.69),
(2017.65,15.78),(2017.69,15.89),(2017.73,15.65),(2017.78,15.47),(2017.83,15.24),(2017.87,15.16),
(2017.91,15.11),(2017.93,14.84),(2017.96,14.48),(2018.00,14.35),(2018.03,14.31),(2018.06,14.04),
(2018.10,13.55),(2018.14,13.46),(2018.17,13.19),(2018.21,13.64),(2018.24,13.86),(2018.29,13.55),
(2018.33,13.73),(2018.36,13.55),(2018.39,13.28),(2018.43,13.05),(2018.46,13.41),(2018.50,13.55)]

# y-axis ticks (the reference leaves some tick marks unlabelled)
LEFT_TICKS = [[15, 16, 17, 18, 19, 20], [20.5, 21.0, 21.5, 22.0], [18.5, 19.0, 19.5, 20.0, 20.5, 21.0]]
LEFT_HIDDEN = [[], [], [19.0, 20.0, 21.0]]
LEFT_YRANGE = [(14.23, 20.50), (20.20, 22.20), (18.14, 21.205)]
RIGHT_TICKS = [[10, 11, 12, 13, 14], [13, 14, 15, 16, 17], [12, 13, 14, 15, 16]]
RIGHT_YRANGE = [(9.47, 14.30), (12.80, 17.20), (11.70, 16.69)]
X_RANGE = (2005.98, 2018.98)

# ---------------- layout constants ----------------
TITLE_H = 140          # height of the strip holding the main titles
TOP_PAD = 4            # keeps the full outline visible above the first panel
PANEL_H = 572
BOTTOM_BORDER = 192
SANS = "Liberation Sans"

LEFT_CFG = dict(width=2030, border_left=184, frame_w=1555, tick_font=31, tick_out=23,
                tick_standoff=25, label_standoff=46, label_size=57, line_w=3.0,
                xtick_font=40, xtick_standoff=24, index_size=55, index_standoff=43,
                title_size=43, title_x=897, title_baseline=44)
RIGHT_CFG = dict(width=1905, border_left=292, frame_w=1607, tick_font=32, tick_out=12,
                 tick_standoff=7, label_size=57, label_standoff=22, line_w=2.4,
                 xtick_font=32, xtick_standoff=43, index_size=55, index_standoff=34,
                 title_size=31, title_x=1035, title_baseline=44)


def make_title(cfg, text):
    w = cfg["width"]
    t = figure(width=w, height=TITLE_H, output_backend="svg", toolbar_location=None,
               x_range=Range1d(0, w), y_range=Range1d(0, TITLE_H),
               x_axis_location=None, y_axis_location=None, min_border=0, title=None)
    t.outline_line_color = None
    t.grid.visible = False
    t.background_fill_color = "white"
    t.border_fill_color = "white"
    t.add_layout(Label(x=cfg["title_x"], y=TITLE_H - cfg["title_baseline"], text=text,
                       text_align="center", text_baseline="alphabetic",
                       text_font=SANS, text_font_style="bold",
                       text_font_size=f"{cfg['title_size']}px", text_color="black"))
    return t


def make_panel(data, idx, ticks, hidden, yr, cfg, fmt):
    top = idx == 0
    bottom = idx == 2
    h = PANEL_H + (TOP_PAD if top else 0) + (BOTTOM_BORDER if bottom else 0)
    p = figure(width=cfg["width"], height=h, output_backend="svg", toolbar_location=None,
               x_range=Range1d(*X_RANGE), y_range=Range1d(*yr),
               x_axis_location="below" if bottom else None,
               title=None,
               min_border_left=cfg["border_left"],
               min_border_right=cfg["width"] - cfg["border_left"] - cfg["frame_w"],
               min_border_top=TOP_PAD if top else 0,
               min_border_bottom=BOTTOM_BORDER if bottom else 0)
    p.background_fill_color = "white"
    p.border_fill_color = "white"
    p.outline_line_color = "black"
    p.outline_line_width = 5
    p.grid.visible = False

    xs = [d for d, v in data]
    ys = [v for d, v in data]
    p.line(xs, ys, line_color="black", line_width=cfg["line_w"])

    ya = p.yaxis[0]
    ya.ticker = FixedTicker(ticks=ticks)
    if fmt:
        ya.formatter = NumeralTickFormatter(format=fmt)
    if hidden:
        ya.major_label_overrides = {t: "" for t in hidden}
    ya.major_label_orientation = "vertical"
    ya.major_label_text_font = SANS
    ya.major_label_text_font_size = f"{cfg['tick_font']}px"
    ya.major_label_text_color = "black"
    ya.major_label_standoff = cfg["tick_standoff"]
    ya.major_tick_out = cfg["tick_out"]
    ya.major_tick_in = 0
    ya.major_tick_line_width = 3
    ya.major_tick_line_color = "black"
    ya.minor_tick_out = 0
    ya.minor_tick_in = 0
    ya.axis_line_width = 5
    ya.axis_line_color = "black"
    ya.axis_label = SERIES_NAMES[idx]
    ya.axis_label_text_font = SANS
    ya.axis_label_text_font_style = "bold"
    ya.axis_label_text_font_size = f"{cfg['label_size']}px"
    ya.axis_label_text_color = "black"
    ya.axis_label_standoff = cfg["label_standoff"]

    if bottom:
        xa = p.xaxis[0]
        xa.ticker = FixedTicker(ticks=YEAR_TICKS)
        xa.major_label_text_font = SANS
        xa.major_label_text_font_size = f"{cfg['xtick_font']}px"
        xa.major_label_text_color = "black"
        xa.major_label_standoff = cfg["xtick_standoff"]
        xa.major_tick_out = 31
        xa.major_tick_in = 0
        xa.major_tick_line_width = 3
        xa.major_tick_line_color = "black"
        xa.minor_tick_out = 0
        xa.minor_tick_in = 0
        xa.axis_line_width = 5
        xa.axis_line_color = "black"
        xa.axis_label = "Index"
        xa.axis_label_text_font = SANS
        xa.axis_label_text_font_style = "normal"
        xa.axis_label_text_font_size = f"{cfg['index_size']}px"
        xa.axis_label_text_color = "black"
        xa.axis_label_standoff = cfg["index_standoff"]
    return p


left_series = [TO_NIFTY50, TO_MIDCAP50, TO_SMALLCAP50]
right_series = [BAND_NIFTY50, BAND_MIDCAP50, BAND_SMALLCAP50]
left_fmt = [None, "0.0", "0.0"]

left_figs = [make_title(LEFT_CFG, TITLE_LEFT)] + [
    make_panel(left_series[i], i, LEFT_TICKS[i], LEFT_HIDDEN[i], LEFT_YRANGE[i], LEFT_CFG, left_fmt[i])
    for i in range(3)]
right_figs = [make_title(RIGHT_CFG, TITLE_RIGHT)] + [
    make_panel(right_series[i], i, RIGHT_TICKS[i], [], RIGHT_YRANGE[i], RIGHT_CFG, None)
    for i in range(3)]

layout = row(column(*left_figs, spacing=0), column(*right_figs, spacing=0), spacing=0)

with open("out.html", "w") as f:
    f.write(file_html(layout, INLINE))
